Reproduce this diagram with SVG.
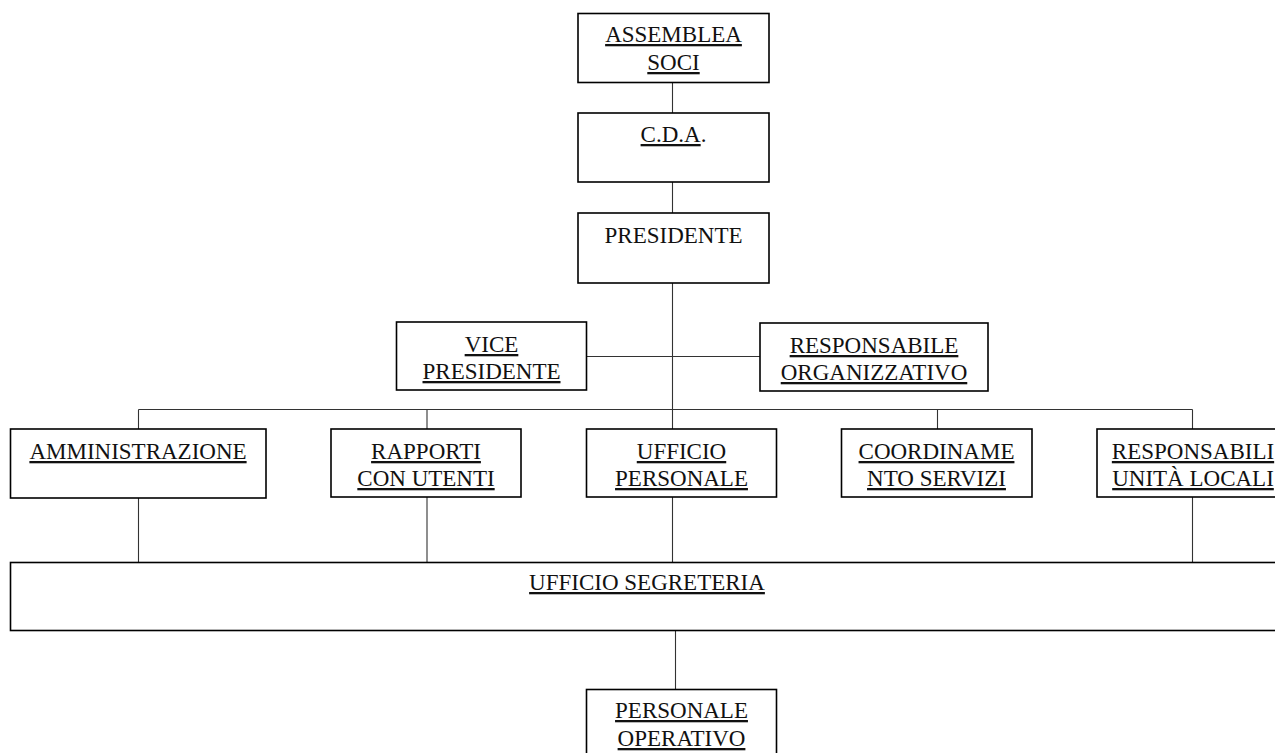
<svg xmlns="http://www.w3.org/2000/svg" width="1275" height="753" viewBox="0 0 1275 753">
<style>
.box{fill:#fff;stroke:#000;stroke-width:1.6}
.t{font-family:"Liberation Serif","Times New Roman",serif;font-size:23px;fill:#111;text-anchor:middle}
.u{text-decoration:underline}
.c{stroke:#333;stroke-width:1.1;fill:none}
</style>
<rect width="1275" height="753" fill="#fff"/>
<g id="connectors">
<path class="c" d="M672.5 82V113M672.5 182V213M672.5 283V429M672.5 497V562"/>
<path class="c" d="M586 356.5H760"/>
<path class="c" d="M138.5 409.5H1192.5M138.5 409.5V429M427 409.5V429M937.5 409.5V429M1192.5 409.5V429"/>
<path class="c" d="M138.5 498V562M427 497V562M1192.5 497V562"/>
<path class="c" d="M675.5 631V690"/>
</g>
<g id="assemblea">
<rect class="box" x="578" y="13.5" width="191" height="69"/>
<text class="t u" x="673.5" y="42">ASSEMBLEA</text>
<text class="t u" x="673.5" y="70">SOCI</text>
</g>
<g id="cda">
<rect class="box" x="578" y="113" width="191" height="69"/>
<text class="t" x="673.5" y="142"><tspan class="u">C.D.A</tspan>.</text>
</g>
<g id="presidente">
<rect class="box" x="578" y="213" width="191" height="70"/>
<text class="t" x="673.5" y="243">PRESIDENTE</text>
</g>
<g id="vice">
<rect class="box" x="396.5" y="322" width="190" height="68"/>
<text class="t u" x="491.5" y="352">VICE</text>
<text class="t u" x="491.5" y="379">PRESIDENTE</text>
</g>
<g id="resp-org">
<rect class="box" x="760" y="323" width="228" height="68"/>
<text class="t u" x="874" y="353">RESPONSABILE</text>
<text class="t u" x="874" y="380">ORGANIZZATIVO</text>
</g>
<g id="amministrazione">
<rect class="box" x="10.5" y="429" width="255.5" height="69"/>
<text class="t u" x="138" y="459">AMMINISTRAZIONE</text>
</g>
<g id="rapporti">
<rect class="box" x="331" y="429" width="190" height="68"/>
<text class="t u" x="426" y="459">RAPPORTI</text>
<text class="t u" x="426" y="486">CON UTENTI</text>
</g>
<g id="ufficio-personale">
<rect class="box" x="586.5" y="429" width="190" height="68"/>
<text class="t u" x="681.5" y="459">UFFICIO</text>
<text class="t u" x="681.5" y="486">PERSONALE</text>
</g>
<g id="coordinamento">
<rect class="box" x="841.5" y="429" width="190.5" height="68"/>
<text class="t u" x="936.5" y="459">COORDINAME</text>
<text class="t u" x="936.5" y="486">NTO SERVIZI</text>
</g>
<g id="resp-locali">
<rect class="box" x="1097" y="429" width="192" height="68"/>
<text class="t u" x="1193" y="459">RESPONSABILI</text>
<text class="t u" x="1193" y="486">UNITÀ LOCALI</text>
</g>
<g id="segreteria">
<rect class="box" x="10.5" y="562.5" width="1272" height="68"/>
<text class="t u" x="647" y="590">UFFICIO SEGRETERIA</text>
</g>
<g id="personale-operativo">
<rect class="box" x="586.5" y="689.5" width="190" height="70"/>
<text class="t u" x="681.5" y="718">PERSONALE</text>
<text class="t u" x="681.5" y="746">OPERATIVO</text>
</g>
</svg>
